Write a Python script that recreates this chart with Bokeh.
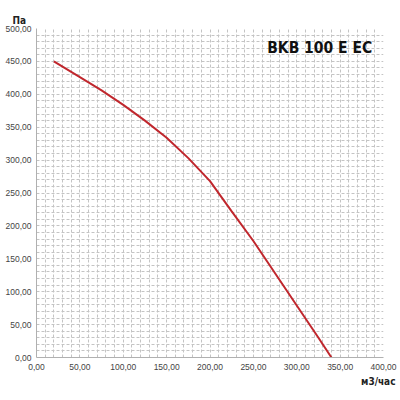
from bokeh.plotting import figure
from bokeh.models import Range1d, SingleIntervalTicker, CustomJSTickFormatter, Label, Title
from bokeh.embed import file_html
from bokeh.resources import INLINE

flow = [20, 50, 75, 100, 125, 150, 175, 200, 225, 250, 275, 300, 325, 340]
pressure = [450, 426, 406, 384, 360, 334, 303, 268, 222, 177, 128, 79, 30, 0]
title_text = "BKB 100 E EC"
y_unit = "Па"
x_unit = "м3/час"

p = figure(width=400, height=400, output_backend="svg", toolbar_location=None,
           x_range=Range1d(0, 400), y_range=Range1d(0, 500),
           min_border_left=36, min_border_right=17, min_border_top=28, min_border_bottom=43)
p.outline_line_color = None
p.background_fill_color = "white"

fmt = CustomJSTickFormatter(code="return tick.toFixed(2).replace('.', ',');")
for ax in (p.xaxis[0], p.yaxis[0]):
    ax.ticker = SingleIntervalTicker(interval=50)
    ax.formatter = fmt
    ax.major_tick_line_color = None
    ax.minor_tick_line_color = None
    ax.major_tick_out = 0
    ax.major_tick_in = 0
    ax.minor_tick_out = 0
    ax.minor_tick_in = 0
    ax.axis_line_color = "#b0b0b0"
    ax.major_label_text_font = "Liberation Sans"
    ax.major_label_text_font_size = "8.5px"
    ax.major_label_text_color = "#444444"
p.xaxis[0].major_label_standoff = 6
p.yaxis[0].major_label_standoff = 5

for g in (p.xgrid[0], p.ygrid[0]):
    g.ticker = SingleIntervalTicker(interval=10)
    g.grid_line_color = "#c4c4c4"
    g.grid_line_dash = "3 2"
    g.grid_line_width = 1

p.line(flow, pressure, line_color="#c0272d", line_width=2)

p.add_layout(Label(x=387, y=470, text=title_text, text_align="right", text_baseline="middle",
                   text_font="DejaVu Sans Condensed", text_font_style="bold",
                   text_font_size="15.5px", text_color="#111111"))

t_top = Title(text=y_unit, align="left", offset=-24, standoff=6,
              text_font="DejaVu Sans Condensed", text_font_style="bold",
              text_font_size="10px", text_color="#222222")
p.add_layout(t_top, "above")
t_bot = Title(text=x_unit, align="right", offset=-12, standoff=3,
              text_font="DejaVu Sans Condensed", text_font_style="bold",
              text_font_size="10px", text_color="#222222")
p.add_layout(t_bot, "below")

open("out.html", "w").write(file_html(p, INLINE))
